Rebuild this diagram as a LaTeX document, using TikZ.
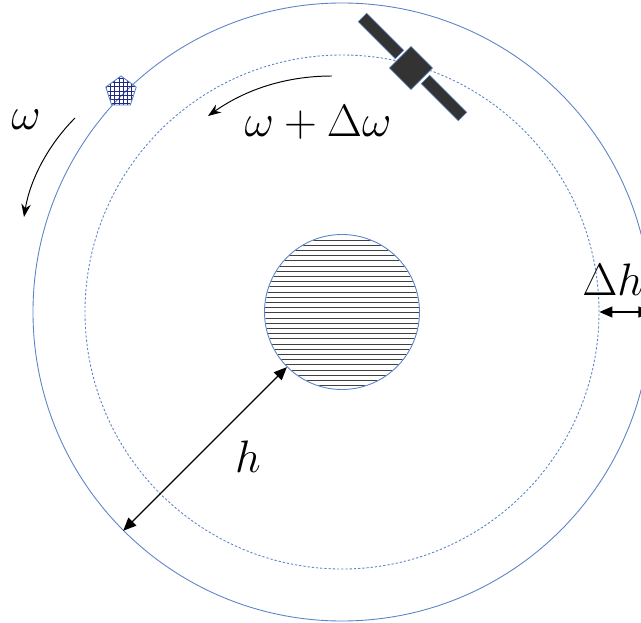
\documentclass[tikz,border=0pt]{standalone}
\usepackage{amsfonts,amsmath,amssymb}
\usepackage{xcolor}
\usepackage{tikz}
\usetikzlibrary{calc,positioning,arrows.meta,shapes.geometric}
\definecolor{orbitblue}{HTML}{5B83C8}
\definecolor{gridblue}{HTML}{1F2A80}
\definecolor{satgray}{HTML}{333333}
\tikzset{
  orbit/.style={draw=orbitblue,circle,inner sep=0pt,line width=0.5pt},
  panel/.style={draw=orbitblue,fill=satgray,line width=0.3pt,rotate=-45,inner sep=0pt,minimum width=10.5mm,minimum height=2.4mm},
  bigmath/.style={inner sep=0pt,font=\Huge,scale=1.04},
  arr/.style={-{Stealth[length=2.6mm,width=1.9mm]},line width=0.55pt},
  dblarr/.style={{Triangle[length=2.6mm,width=2.2mm]}-{Triangle[length=2.6mm,width=2.2mm]},line width=0.75pt}
}
\begin{document}
\begin{tikzpicture}[x=0.2mm,y=-0.2mm]
\useasboundingbox (0,0) rectangle (641,623);
\clip (0,0) rectangle (641,623);
\node [orbit,minimum size=123.6mm] (outer) at (342,312) {};
\node [orbit,dash pattern=on 1.3pt off 1.1pt,minimum size=102.8mm] (inner) at (342,312) {};
% planet
\begin{scope}
\clip (342,312) circle (77);
\foreach\y in {0,...,28}
  \draw [line width=0.35pt,black!75] (260,240+5.2*\y) -- (425,240+5.2*\y);
\end{scope}
\node [orbit,minimum size=31mm] (earth) at (342,312) {};
% satellite
\foreach\name/\x/\y in {panela/381/36,panelb/444/98}
  \node [panel] (\name) at (\x,\y) {};
\node [draw=orbitblue,fill=satgray,line width=0.3pt,rotate=45,inner sep=0pt,minimum size=6.1mm] (sat) at (411,68) {};
% debris
\begin{scope}
\clip (121,76) -- (136,87) -- (130,105) -- (112,105) -- (106,87) -- cycle;
\foreach\i in {0,...,7} {
  \draw [line width=0.4pt,gridblue] (106+4.3*\i,70) -- (106+4.3*\i,110);
  \draw [line width=0.4pt,gridblue] (100,78+4.3*\i) -- (140,78+4.3*\i);
}
\end{scope}
\node [draw=orbitblue,regular polygon,regular polygon sides=5,inner sep=0pt,minimum size=6.4mm,line width=0.5pt] (debris) at (121,92) {};
\coordinate (wstart) at (75,118);
\coordinate (wend) at (24,217);
\coordinate (dwstart) at (332,76);
\coordinate (dwend) at (208,116);
\draw [arr] (wstart) .. controls (48,145) and (30,180) .. (wend);
\draw [arr] (dwstart) .. controls (285,76) and (245,90) .. (dwend);
\draw [dblarr] (earth.225) -- (outer.225);
\draw [dblarr] (inner.east) -- (outer.east);
\node [bigmath] (wlabel) at (26,120) {$\omega$};
\node [bigmath] (dwlabel) at (318,122) {$\omega+\Delta\omega$};
\node [bigmath] (hlabel) at (248,457) {$h$};
\node [bigmath,anchor=west] (dhlabel) at (582,280) {$\Delta h$};
\end{tikzpicture}
\end{document}
